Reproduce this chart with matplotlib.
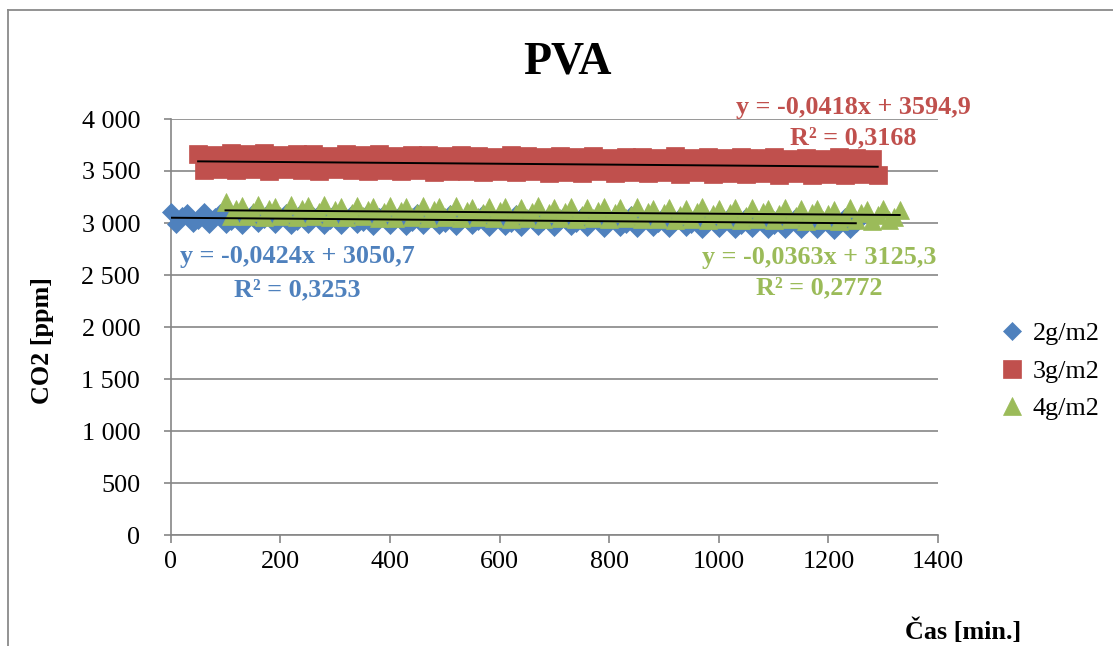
import numpy as np
import matplotlib
matplotlib.use("Agg")
import matplotlib.pyplot as plt
from matplotlib.ticker import FuncFormatter
from matplotlib.lines import Line2D

plt.rcParams['font.family'] = ['Liberation Serif', 'DejaVu Serif']

# ---------------- data ----------------
title = "PVA"
x_label = "Čas [min.]"
y_label = "CO2 [ppm]"
series_names = ["2g/m2", "3g/m2", "4g/m2"]

x_2g = np.arange(0, 1251, 10)
y_2g = [3104, 2992, 3066, 3097, 3001, 3028, 3110, 2988, 3059, 3099,
        2994, 3021, 3101, 2985, 3062, 3093, 2998, 3034, 3106, 2987,
        3055, 3094, 2981, 3018, 3101, 2990, 3063, 3086, 2983, 3027,
        3095, 2977, 3050, 3083, 2986, 3012, 3098, 2975, 3058, 3089,
        2980, 3046, 3084, 2971, 3009, 3094, 2976, 3052, 3080, 2983,
        3004, 3089, 2969, 3047, 3078, 2976, 3024, 3086, 2966, 3039,
        3075, 2971, 3000, 3084, 2962, 3041, 3079, 2968, 3016, 3071,
        2958, 3033, 3079, 2967, 2997, 3070, 2963, 3037, 3076, 2955,
        3028, 3066, 2961, 2993, 3075, 2952, 3031, 3069, 2958, 3002,
        3070, 2949, 3024, 3062, 2958, 2987, 3068, 2946, 3029, 3059,
        2953, 3015, 3066, 2944, 2982, 3060, 2950, 3021, 3057, 2941,
        2980, 3055, 2947, 3014, 3062, 2939, 2995, 3051, 2944, 3009,
        3049, 2937, 2986, 3056, 2945, 3003]

x_3g = np.arange(50, 1291, 10)
y_3g = [3668, 3512, 3603, 3655, 3520, 3571, 3674, 3509, 3612, 3661,
        3515, 3579, 3670, 3503, 3604, 3652, 3518, 3566, 3665, 3508,
        3598, 3659, 3500, 3570, 3648, 3516, 3606, 3667, 3505, 3563,
        3650, 3498, 3592, 3663, 3511, 3558, 3645, 3496, 3601, 3657,
        3508, 3561, 3655, 3493, 3590, 3641, 3504, 3569, 3652, 3497,
        3583, 3645, 3490, 3556, 3638, 3503, 3594, 3651, 3487, 3562,
        3641, 3499, 3575, 3633, 3485, 3550, 3647, 3494, 3586, 3636,
        3481, 3570, 3643, 3497, 3546, 3629, 3479, 3577, 3638, 3491,
        3566, 3634, 3477, 3542, 3625, 3490, 3571, 3640, 3474, 3553,
        3628, 3486, 3561, 3637, 3471, 3539, 3622, 3483, 3568, 3631,
        3469, 3557, 3626, 3480, 3535, 3634, 3466, 3561, 3619, 3477,
        3552, 3629, 3464, 3532, 3615, 3475, 3558, 3632, 3461, 3546,
        3624, 3472, 3537, 3618, 3465]

x_4g = np.arange(100, 1331, 10)
y_4g = [3198, 3064, 3131, 3163, 3070, 3104, 3172, 3061, 3137, 3158,
        3066, 3099, 3171, 3058, 3130, 3160, 3069, 3108, 3175, 3056,
        3127, 3157, 3054, 3095, 3168, 3063, 3121, 3153, 3052, 3104,
        3165, 3051, 3118, 3150, 3060, 3092, 3160, 3049, 3125, 3154,
        3057, 3088, 3162, 3046, 3116, 3149, 3055, 3100, 3158, 3044,
        3112, 3152, 3043, 3084, 3145, 3052, 3109, 3161, 3041, 3096,
        3149, 3049, 3106, 3156, 3039, 3081, 3142, 3047, 3113, 3153,
        3036, 3098, 3146, 3044, 3077, 3155, 3034, 3103, 3139, 3042,
        3099, 3148, 3032, 3074, 3137, 3041, 3106, 3151, 3030, 3087,
        3135, 3039, 3095, 3146, 3028, 3070, 3140, 3036, 3101, 3133,
        3026, 3091, 3143, 3034, 3066, 3130, 3024, 3097, 3138, 3031,
        3086, 3127, 3022, 3062, 3141, 3029, 3093, 3125, 3020, 3080,
        3134, 3027, 3058, 3122]

# trendline coefficients as given on chart
slopes = [-0.0424, -0.0418, -0.0363]
intercepts = [3050.7, 3594.9, 3125.3]
r2 = ["0,3253", "0,3168", "0,2772"]
eq_texts = ["y = -0,0424x + 3050,7", "y = -0,0418x + 3594,9", "y = -0,0363x + 3125,3"]

x_ticks = [0, 200, 400, 600, 800, 1000, 1200, 1400]
y_ticks = [0, 500, 1000, 1500, 2000, 2500, 3000, 3500, 4000]

# ---------------- style ----------------
colors = ["#4F81BD", "#C0504D", "#9BBB59"]
markers = ["D", "s", "^"]
msizes = [9.0, 12.4, 13.0]
W, H = 1113, 646
FS = 18.8
grid_c = "#868686"

fig = plt.figure(figsize=(W / 100, H / 100), dpi=100)
ax = fig.add_axes([170.7 / W, 1 - 535 / H, (938 - 170.7) / W, (535 - 119) / H])

xs = [x_2g, x_3g, x_4g]
ys = [y_2g, y_3g, y_4g]
handles = []
for i in range(3):
    h, = ax.plot(xs[i], ys[i], linestyle="none", marker=markers[i], ms=msizes[i],
                 color=colors[i], mec=colors[i], mew=0.5, clip_on=False,
                 zorder=3 + i, label=series_names[i])
    handles.append(h)

for i in range(3):
    xx = np.array([xs[i].min(), xs[i].max()])
    ax.plot(xx, slopes[i] * xx + intercepts[i], color="black", lw=1.4, zorder=10)

ax.set_xlim(0, 1400)
ax.set_ylim(0, 4000)
ax.set_xticks(x_ticks)
ax.set_yticks(y_ticks)
ax.yaxis.set_major_formatter(FuncFormatter(lambda v, p: f"{int(v):,}".replace(",", " ")))
ax.xaxis.set_major_formatter(FuncFormatter(lambda v, p: f"{int(v)}"))
ax.grid(axis="y", color=grid_c, lw=1.2)
ax.set_axisbelow(True)
for s in ["top", "right"]:
    ax.spines[s].set_visible(False)
for s in ["left", "bottom"]:
    ax.spines[s].set_color(grid_c)
    ax.spines[s].set_linewidth(1.2)
ax.tick_params(axis="y", direction="out", length=5, width=1.2, color=grid_c,
               labelsize=FS, pad=17)
ax.tick_params(axis="x", direction="out", length=5.5, width=1.2, color=grid_c,
               labelsize=FS, pad=6)


def fx(px):
    return px / W


def fy(py):
    return 1 - py / H


fig.text(fx(567), fy(74), title, ha="center", va="baseline", fontsize=33, fontweight="bold")
fig.text(fx(42), fy(341), y_label, ha="center", va="center", rotation=90,
         fontsize=FS, fontweight="bold")
fig.text(fx(963), fy(639), x_label, ha="center", va="baseline", fontsize=FS, fontweight="bold")

# trendline equations
eq_pos = [(297, 263, 296), (853, 114, 144), (819, 264, 294)]
for i, (cx, b1, b2) in enumerate(eq_pos):
    fig.text(fx(cx), fy(b1), eq_texts[i], ha="center", va="baseline",
             fontsize=FS, fontweight="bold", color=colors[i])
    fig.text(fx(cx), fy(b2), "R² = " + r2[i], ha="center", va="baseline",
             fontsize=FS, fontweight="bold", color=colors[i])

# legend
fig.legend(handles=handles, loc="center left", bbox_to_anchor=(fx(1001.5), fy(371)),
           frameon=False, fontsize=FS, handlelength=0.8, handletextpad=0.4,
           borderpad=0, borderaxespad=0, labelspacing=0.55, numpoints=1)

# outer chart border (left and top visible)
fig.add_artist(Line2D([fx(8), fx(8)], [fy(10), 0], color="#8a8a8a", lw=1.3,
                      transform=fig.transFigure))
fig.add_artist(Line2D([fx(8), 1], [fy(10), fy(10)], color="#8a8a8a", lw=1.3,
                      transform=fig.transFigure))

fig.savefig("out.png", dpi=100)
